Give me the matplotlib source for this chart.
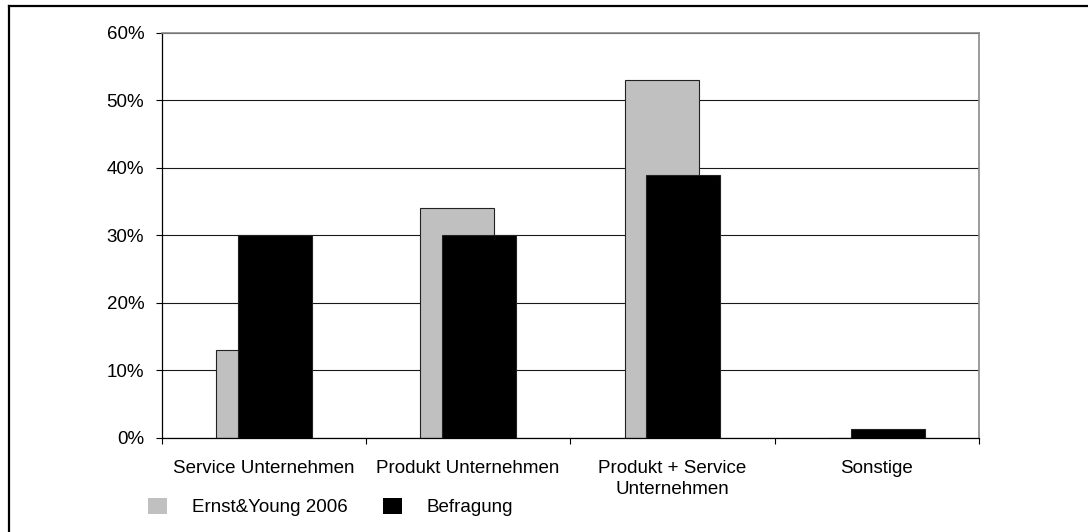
import matplotlib
matplotlib.use("Agg")
import matplotlib.pyplot as plt
import numpy as np
from matplotlib.patches import Patch
from matplotlib.lines import Line2D
from matplotlib.ticker import PercentFormatter, FixedLocator

plt.rcParams['font.family'] = ['Liberation Sans', 'DejaVu Sans']

categories = ["Service Unternehmen", "Produkt Unternehmen",
              "Produkt + Service\nUnternehmen", "Sonstige"]
ernst_young_2006 = [13, 34, 53, 0]
befragung = [30, 30, 39, 1.3]
series_names = ["Ernst&Young 2006", "Befragung"]
y_ticks = [0, 10, 20, 30, 40, 50, 60]

W, H = 1088, 532
FS = 13.5
fig = plt.figure(figsize=(W / 100, H / 100), dpi=100)
fig.patch.set_facecolor("white")

left, right, top, bottom = 161.5, 979, 32.7, 438
ax = fig.add_axes([left / W, 1 - bottom / H, (right - left) / W, (bottom - top) / H])

x = np.arange(len(categories))
bar_w = 0.362
shift = 0.053
grey = "#C0C0C0"
ax.bar(x - shift, ernst_young_2006, width=bar_w, color=grey,
       edgecolor="#222222", linewidth=0.8, zorder=2)
ax.bar(x + shift, befragung, width=bar_w, color="black",
       edgecolor="#222222", linewidth=0.8, zorder=3)

ax.set_xlim(-0.5, len(categories) - 0.5)
ax.set_ylim(0, 60)
ax.set_yticks(y_ticks)
ax.yaxis.set_major_formatter(PercentFormatter(decimals=0))
ax.grid(axis="y", color="#1a1a1a", linewidth=0.8)
ax.set_axisbelow(True)

ax.set_xticks(x)
ax.set_xticklabels(categories, fontsize=FS, linespacing=1.3)
ax.xaxis.set_minor_locator(FixedLocator(np.arange(-0.5, len(categories), 1.0)))
ax.tick_params(axis="x", which="major", length=0, pad=16)
ax.tick_params(axis="x", which="minor", length=4, width=0.8, direction="out", color="black")
ax.tick_params(axis="y", length=4.5, width=0.8, direction="out", pad=8, labelsize=FS, color="black")

for side in ("left", "bottom"):
    ax.spines[side].set_color("black")
    ax.spines[side].set_linewidth(0.9)
for side in ("top", "right"):
    ax.spines[side].set_color("#8a8a8a")
    ax.spines[side].set_linewidth(1.2)

handles = [Patch(facecolor=grey, edgecolor="none"),
           Patch(facecolor="black", edgecolor="none")]
fig.legend(handles, series_names, loc="center left",
           bbox_to_anchor=(148 / W, 1 - 507 / H), bbox_transform=fig.transFigure,
           ncol=2, frameon=False, fontsize=FS, borderpad=0, borderaxespad=0,
           handlelength=1.01, handleheight=1.01, handletextpad=1.33,
           columnspacing=1.87)

# outer frame (top and left edges)
fig.add_artist(Line2D([9 / W, 1.0], [1 - 6 / H, 1 - 6 / H],
                      transform=fig.transFigure, color="black", linewidth=1.6))
fig.add_artist(Line2D([9 / W, 9 / W], [0.0, 1 - 6 / H],
                      transform=fig.transFigure, color="black", linewidth=1.6))

fig.savefig("out.png", dpi=100, facecolor="white")
